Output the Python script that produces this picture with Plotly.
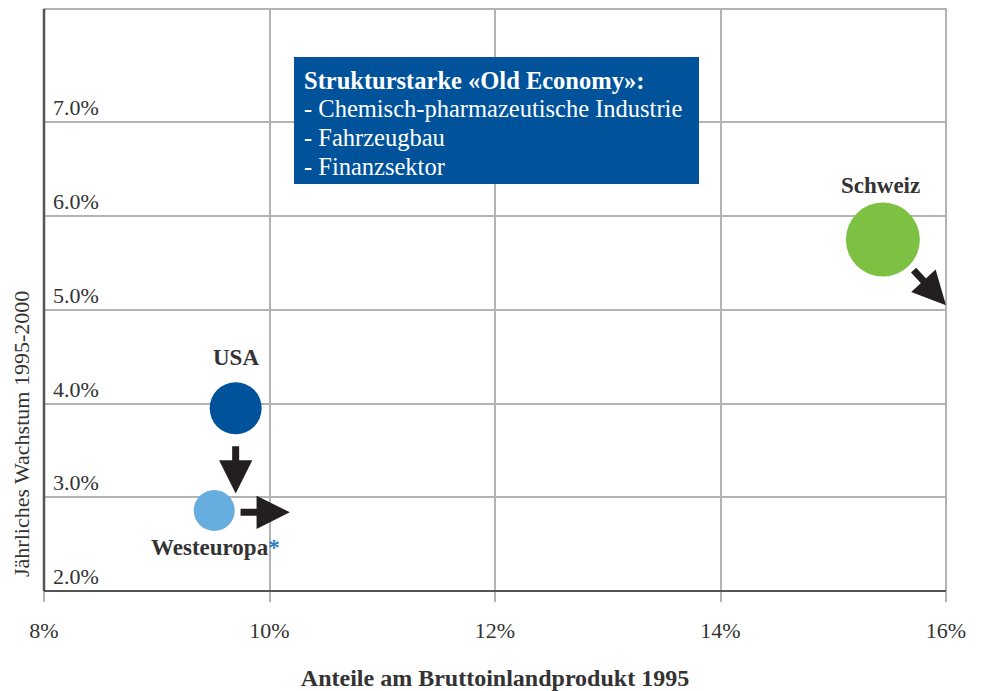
import plotly.graph_objects as go

# ---- data ----
regions = ["USA", "Westeuropa", "Schweiz"]
share_gdp_1995 = [9.70, 9.51, 15.44]      # x, %
growth_1995_2000 = [3.95, 2.86, 5.75]     # y, %
bubble_size = [52, 41, 74]
colors = ["#00539b", "#66aedf", "#7cc142"]

x_ticks = [8, 10, 12, 14, 16]
x_tick_labels = ["8%", "10%", "12%", "14%", "16%"]
y_ticks = [2, 3, 4, 5, 6, 7]
y_tick_labels = ["2.0%", "3.0%", "4.0%", "5.0%", "6.0%", "7.0%"]

box_lines = ["<b>Strukturstarke «Old Economy»:</b>",
             "- Chemisch-pharmazeutische Industrie",
             "- Fahrzeugbau",
             "- Finanzsektor"]

FONT = "Liberation Serif, serif"
TXT = "#333333"

# page offset (body margin) compensation
W, H = 973, 683
L, R, T, B = 36, 35, 1, 100
PW = W - L - R
PH = H - T - B

fig = go.Figure()
fig.add_trace(go.Scatter(
    x=share_gdp_1995, y=growth_1995_2000, mode="markers",
    marker=dict(size=bubble_size, sizemode="diameter", color=colors, line=dict(width=0), opacity=1),
    hoverinfo="text", text=regions, showlegend=False))

XR = [8, 16]
YR = [2, 8.21]

# labels
labels = [
    dict(x=share_gdp_1995[0], y=growth_1995_2000[0], text="<b>USA</b>", yshift=51),
    dict(x=share_gdp_1995[1], y=growth_1995_2000[1],
         text="<b>Westeuropa</b><span style='color:#2e7fc1'><b>*</b></span>", yshift=-37, xshift=1),
    dict(x=share_gdp_1995[2], y=growth_1995_2000[2], text="<b>Schweiz</b>", yshift=54, xshift=-2),
]
for l in labels:
    fig.add_annotation(x=l["x"], y=l["y"], text=l["text"], showarrow=False,
                       xshift=l.get("xshift", 0), yshift=l["yshift"],
                       font=dict(family=FONT, size=23, color=TXT))

# arrows (from bubble outward), in data coords
arrows = [
    (share_gdp_1995[0], growth_1995_2000[0] - 0.39, share_gdp_1995[0], growth_1995_2000[0] - 0.91),
    (share_gdp_1995[1] + 0.22, growth_1995_2000[1] - 0.02, share_gdp_1995[1] + 0.67, growth_1995_2000[1] - 0.02),
    (share_gdp_1995[2] + 0.26, growth_1995_2000[2] - 0.31, share_gdp_1995[2] + 0.56, growth_1995_2000[2] - 0.70),
]
for x0, y0, x1, y1 in arrows:
    fig.add_annotation(x=x1, y=y1, ax=x0, ay=y0, xref="x", yref="y", axref="x", ayref="y",
                       text="", showarrow=True, arrowhead=2, arrowsize=0.95, arrowwidth=7,
                       arrowcolor="#231f20")

# y tick labels (inside, above gridlines)
for v, t in zip(y_ticks, y_tick_labels):
    fig.add_annotation(x=0, xref="paper", y=v, yref="y", text=t, showarrow=False,
                       xanchor="left", yanchor="bottom", xshift=7, yshift=0,
                       font=dict(family=FONT, size=22, color=TXT))

# info box
fig.add_shape(type="rect", xref="paper", yref="paper",
              x0=(294 - 44) / PW, x1=(699 - 44) / PW,
              y0=(591 - 184) / PH, y1=(591 - 57) / PH,
              fillcolor="#00539b", line=dict(width=0), layer="above")
for i, line in enumerate(box_lines):
    fig.add_annotation(xref="paper", yref="paper", x=(302 - 44) / PW, y=(591 - 80 - i * 28.7) / PH,
                       xanchor="left", yanchor="middle", align="left", showarrow=False,
                       text=line, font=dict(family=FONT, size=24.5, color="white"))

# y-axis title
fig.add_annotation(xref="paper", yref="paper", x=-23 / PW, y=(591 - 434) / PH,
                   text="Jährliches Wachstum 1995-2000", textangle=-90, showarrow=False,
                   xanchor="center", yanchor="middle",
                   font=dict(family=FONT, size=22, color=TXT))

# frame
fig.add_shape(type="rect", xref="paper", yref="paper", x0=0, x1=1, y0=0, y1=1,
              line=dict(color="#9a9a9a", width=1.5), layer="below")
fig.add_shape(type="line", xref="paper", yref="paper", x0=0, x1=0, y0=0, y1=1,
              line=dict(color="#555555", width=2.5), layer="above")
fig.add_shape(type="line", xref="paper", yref="paper", x0=0, x1=1, y0=0, y1=0,
              line=dict(color="#333333", width=1.5), layer="above")

fig.update_xaxes(range=XR, tickvals=x_ticks, ticktext=x_tick_labels,
                 showgrid=True, gridcolor="#b3b3b3", gridwidth=1.5,
                 ticks="outside", ticklen=10, tickcolor="#b3b3b3", tickwidth=1.5,
                 ticklabelstandoff=10, zeroline=False, showline=False,
                 tickfont=dict(family=FONT, size=22, color=TXT),
                 title=dict(text="<b>Anteile am Bruttoinlandprodukt 1995</b>", standoff=26,
                            font=dict(family=FONT, size=24, color=TXT)))
fig.update_yaxes(range=YR, tickvals=y_ticks, showticklabels=False,
                 showgrid=True, gridcolor="#b3b3b3", gridwidth=1.5,
                 zeroline=False, showline=False)

fig.update_layout(width=W, height=H, plot_bgcolor="white", paper_bgcolor="white",
                  margin=dict(l=L, r=R, t=T, b=B, autoexpand=False), showlegend=False)

fig.write_html("out.html")
